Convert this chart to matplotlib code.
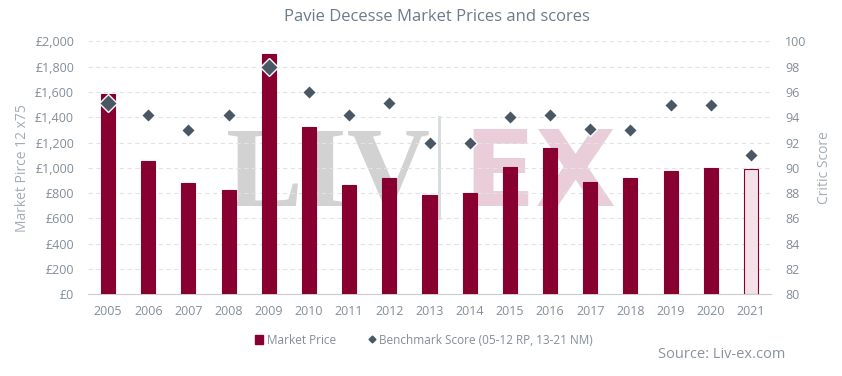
import matplotlib.pyplot as plt
from matplotlib.lines import Line2D
from matplotlib.patches import Patch

years = ['2005', '2006', '2007', '2008', '2009', '2010', '2011', '2012', '2013',
         '2014', '2015', '2016', '2017', '2018', '2019', '2020', '2021']
market_price = [1583, 1054, 880, 825, 1900, 1323, 864, 919, 785,
                800, 1006, 1157, 888, 919, 977, 998, 988]
scores = [95.1, 94.2, 93.0, 94.2, 98.0, 96.0, 94.2, 95.1, 92.0,
          92.0, 94.0, 94.2, 93.1, 93.0, 95.0, 95.0, 91.0]

plt.rcParams['font.family'] = ['Open Sans', 'DejaVu Sans']

claret = '#87002f'
txt = '#838e99'

fig = plt.figure(figsize=(8.42, 3.76), dpi=100)
ax = fig.add_axes([88 / 842, 1 - 294.3 / 376, 683 / 842, 253 / 376])
ax2 = ax.twinx()

x = list(range(len(years)))
colors = [claret] * (len(years) - 1) + ['#f5e2e9']
ax.bar(x, market_price, width=0.35, color=colors, edgecolor=claret, linewidth=0.8, zorder=3)

# watermark, kept behind the bars
base = 1 - 206 / 376
ax.text(225 / 842, base, 'LIV', fontsize=83, fontweight='bold', family='Liberation Serif',
        color='#d2d2d2', ha='left', va='baseline', transform=fig.transFigure,
        zorder=0.2, clip_on=False)
ax.text(463 / 842, base, 'EX', fontsize=76, fontweight='bold', family='DejaVu Sans',
        color='#e9cdd8', ha='left', va='baseline', transform=fig.transFigure,
        zorder=0.2, clip_on=False)
ax.add_line(Line2D([439 / 842, 439 / 842], [1 - 117 / 376, 1 - 218 / 376],
                   color='#d9dcdf', lw=2.2, transform=fig.transFigure, zorder=0.2,
                   clip_on=False))

big = [0, 4]
for i, s in enumerate(scores):
    ms = 9.5 if i in big else 7
    ax2.plot(i, s, marker='D', ms=ms, color='#4a5866', mec='white', mew=1, zorder=4)

ax.set_xlim(-0.5, len(years) - 0.5)
ax.set_ylim(0, 2000)
ax2.set_ylim(80, 100)
ax.set_yticks(range(0, 2001, 200))
ax.set_yticklabels(['£0'] + ['£{:,}'.format(v) for v in range(200, 2001, 200)])
ax2.set_yticks(range(80, 101, 2))
ax.set_xticks(x)
ax.set_xticklabels(years)

ax.grid(axis='y', color='#e3e3e3', linestyle=(0, (4, 3)), lw=0.8)
ax.set_axisbelow(True)
for a in (ax, ax2):
    for sp in a.spines.values():
        sp.set_visible(False)
    a.tick_params(length=0, colors=txt, labelsize=9)
ax.spines['bottom'].set_visible(True)
ax.spines['bottom'].set_color('#cccccc')
ax.tick_params(axis='x', pad=8)
ax.tick_params(axis='y', pad=10)
ax2.tick_params(axis='y', pad=10)
ax.set_zorder(ax2.get_zorder() - 1)
ax.patch.set_visible(False)

ax.set_ylabel('Market Pirce 12 x75', color='#a3acb5', fontsize=10, labelpad=4)
ax2.set_ylabel('Critic Score', color='#a3acb5', fontsize=10, labelpad=8)

fig.text(437 / 842, 1 - 17 / 376, 'Pavie Decesse Market Prices and scores', ha='center',
         va='center', fontsize=12, color='#6b7b8a')

handles = [Patch(color=claret, label='Market Price'),
           Line2D([], [], marker='D', ms=3.5, color='#4a5866', lw=0,
                  label='Benchmark Score (05-12 RP, 13-21 NM)')]
fig.legend(handles=handles, loc='center', bbox_to_anchor=(424 / 842, 1 - 340 / 376), ncol=2,
           frameon=False, fontsize=8.5, labelcolor=txt, handlelength=0.7, handletextpad=0.3,
           columnspacing=2.7)

fig.text(785 / 842, 1 - 355 / 376, 'Source: Liv-ex.com', ha='right', va='center',
         fontsize=10.5, color='#8a939c')

fig.savefig('out.png', dpi=100)
